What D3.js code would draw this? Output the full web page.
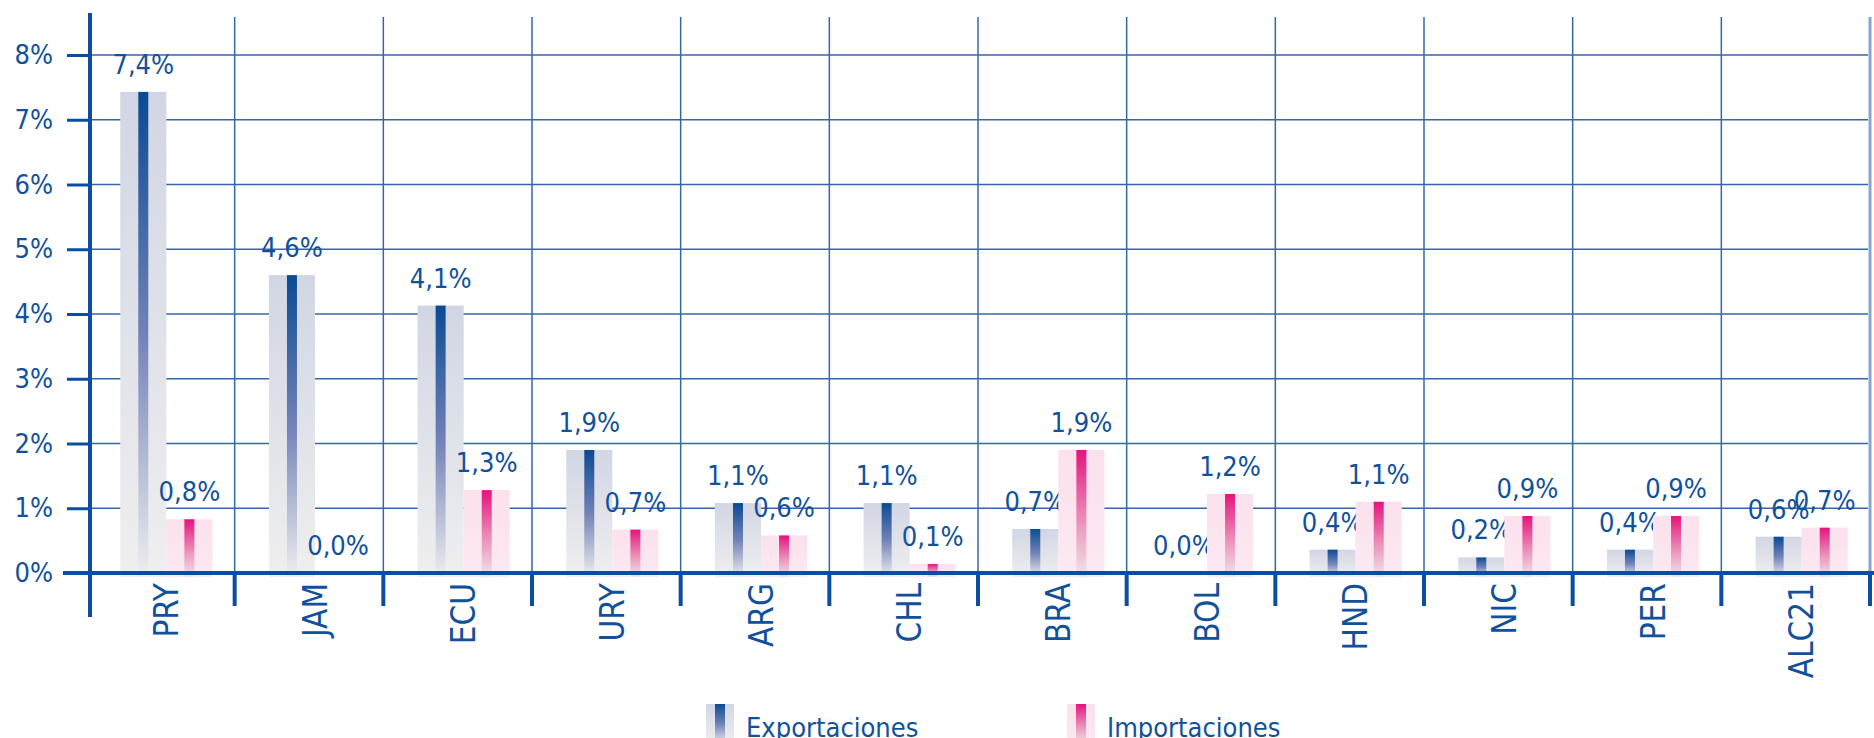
<!DOCTYPE html>
<html>
<head>
<meta charset="utf-8">
<script src="https://cdn.jsdelivr.net/npm/d3@7"></script>
<style>
    body { margin: 0; background: #fff; }
    svg { display: block; }
    text { font-family: 'DejaVu Sans Condensed', 'DejaVu Sans', sans-serif; fill: #11519c; }
</style>
</head>
<body>
<div id="chart"></div>
<script>
// data
var countries = ['PRY', 'JAM', 'ECU', 'URY', 'ARG', 'CHL', 'BRA', 'BOL', 'HND', 'NIC', 'PER', 'ALC21'];
var exportaciones = [7.43, 4.6, 4.13, 1.9, 1.08, 1.08, 0.68, 0.0, 0.36, 0.24, 0.36, 0.56];
var importaciones = [0.83, 0.0, 1.28, 0.67, 0.58, 0.14, 1.9, 1.22, 1.1, 0.88, 0.88, 0.7];
var yTicks = [0, 1, 2, 3, 4, 5, 6, 7, 8];
var seriesNames = ['Exportaciones', 'Importaciones'];

var width = 1874,
    height = 738;

var svg = d3
    .select('#chart')
    .append('svg')
    .attr('width', width)
    .attr('height', height);

var x = d3
    .scaleBand()
    .domain(countries)
    .range([86, 1870])
    .padding(0);
var y = d3
    .scaleLinear()
    .domain([0, 8])
    .range([573, 55]);

var shift = 6; // bar pairs sit a bit right of band centre
var barW = x.bandwidth() * 0.31;
var stripeW = 10;

var fmt = d3.formatLocale({ decimal: ',', thousands: '.', grouping: [3], currency: ['', ''] }).format('.1f');

// gradients
var defs = svg.append('defs');
function grad(id, stops) {
    var g = defs
        .append('linearGradient')
        .attr('id', id)
        .attr('x1', 0).attr('y1', 0)
        .attr('x2', 0).attr('y2', 1);
    stops.forEach(s => g.append('stop').attr('offset', s[0]).attr('stop-color', s[1]));
}
grad('expBar', [[0, '#d2d6e4'], [1, '#efefef']]);
grad('expLine', [[0, '#0a4b93'], [0.5, '#7282b8'], [1, '#eeeeee']]);
grad('impBar', [[0, '#fbe1ed'], [1, '#fce9f1']]);
grad('impLine', [[0, '#e5137e'], [0.55, '#ec8fb8'], [1, '#efe6ea']]);

// grid
svg.append('g')
    .selectAll('line')
    .data(yTicks.filter(d => d > 0))
    .enter()
    .append('line')
    .attr('x1', 90)
    .attr('x2', 1868)
    .attr('y1', d => y(d))
    .attr('y2', d => y(d))
    .attr('stroke', '#3566aa')
    .attr('stroke-width', 1.5);

svg.append('g')
    .selectAll('line')
    .data(countries)
    .enter()
    .append('line')
    .attr('x1', d => x(d) + x.bandwidth())
    .attr('x2', d => x(d) + x.bandwidth())
    .attr('y1', 17)
    .attr('y2', y(0))
    .attr('stroke', (d, i) => (i == countries.length - 1 ? '#86a6cf' : '#3566aa'))
    .attr('stroke-width', (d, i) => (i == countries.length - 1 ? 3 : 1.5));

// bars
var series = [
    { name: seriesNames[0], values: exportaciones, bar: 'url(#expBar)', line: 'url(#expLine)', off: -barW },
    { name: seriesNames[1], values: importaciones, bar: 'url(#impBar)', line: 'url(#impLine)', off: 0 }
];

var groups = svg
    .append('g')
    .selectAll('g')
    .data(countries)
    .enter()
    .append('g')
    .attr('transform', d => 'translate(' + (x(d) + x.bandwidth() / 2 + shift) + ',0)');

series.forEach(function(s) {
    var h = (i) => y(0) - y(s.values[i]) + (s.values[i] > 0 ? 4 : 0);
    groups
        .append('rect')
        .attr('x', s.off)
        .attr('y', (d, i) => y(s.values[i]))
        .attr('width', barW)
        .attr('height', (d, i) => h(i))
        .attr('fill', s.bar);
    groups
        .append('rect')
        .attr('x', s.off + barW / 2 - stripeW / 2)
        .attr('y', (d, i) => y(s.values[i]))
        .attr('width', stripeW)
        .attr('height', (d, i) => h(i))
        .attr('fill', s.line);
    groups
        .append('text')
        .attr('x', s.off + barW / 2)
        .attr('y', (d, i) => y(s.values[i]) - 18)
        .attr('text-anchor', 'middle')
        .style('font-size', '27px')
        .text((d, i) => fmt(s.values[i]) + '%');
});

// Y axis
var yAxis = svg
    .append('g')
    .attr('transform', 'translate(90,0)')
    .call(
        d3.axisLeft(y)
            .tickValues(yTicks)
            .tickSize(23)
            .tickPadding(14)
            .tickFormat(d => d + '%')
    );
yAxis.select('.domain').remove();
yAxis.selectAll('line').attr('stroke', '#0a4ea2').attr('stroke-width', 3);
yAxis.selectAll('text').style('font-size', '27px').attr('fill', '#11519c');

svg.append('line')
    .attr('x1', 90).attr('x2', 90)
    .attr('y1', 13).attr('y2', 617)
    .attr('stroke', '#0a4ea2')
    .attr('stroke-width', 4);

// X axis
var xAxis = svg
    .append('g')
    .attr('transform', 'translate(0,' + y(0) + ')')
    .call(d3.axisBottom(x).tickSize(0));
xAxis.select('.domain').remove();
xAxis.selectAll('text')
    .attr('transform', 'rotate(-90)')
    .attr('x', -10)
    .attr('y', shift)
    .attr('dy', '0.35em')
    .style('text-anchor', 'end')
    .style('font-size', '33px')
    .attr('fill', '#11519c');

svg.append('line')
    .attr('x1', 63).attr('x2', 1874)
    .attr('y1', y(0)).attr('y2', y(0))
    .attr('stroke', '#0a4ea2')
    .attr('stroke-width', 4);

svg.append('g')
    .selectAll('line')
    .data(countries)
    .enter()
    .append('line')
    .attr('x1', d => x(d) + x.bandwidth())
    .attr('x2', d => x(d) + x.bandwidth())
    .attr('y1', y(0))
    .attr('y2', 606)
    .attr('stroke', '#0a4ea2')
    .attr('stroke-width', 4);

// legend
var legendX = [706, 1067];
var legend = svg
    .append('g')
    .selectAll('g')
    .data(series)
    .enter()
    .append('g')
    .attr('transform', (d, i) => 'translate(' + legendX[i] + ',704)');
legend.append('rect')
    .attr('width', 28)
    .attr('height', 40)
    .attr('fill', d => d.bar);
legend.append('rect')
    .attr('x', 9)
    .attr('width', 10)
    .attr('height', 40)
    .attr('fill', d => d.line);
legend.append('text')
    .attr('x', 40)
    .attr('y', 33)
    .style('font-size', '27px')
    .text(d => d.name);
</script>
</body>
</html>
